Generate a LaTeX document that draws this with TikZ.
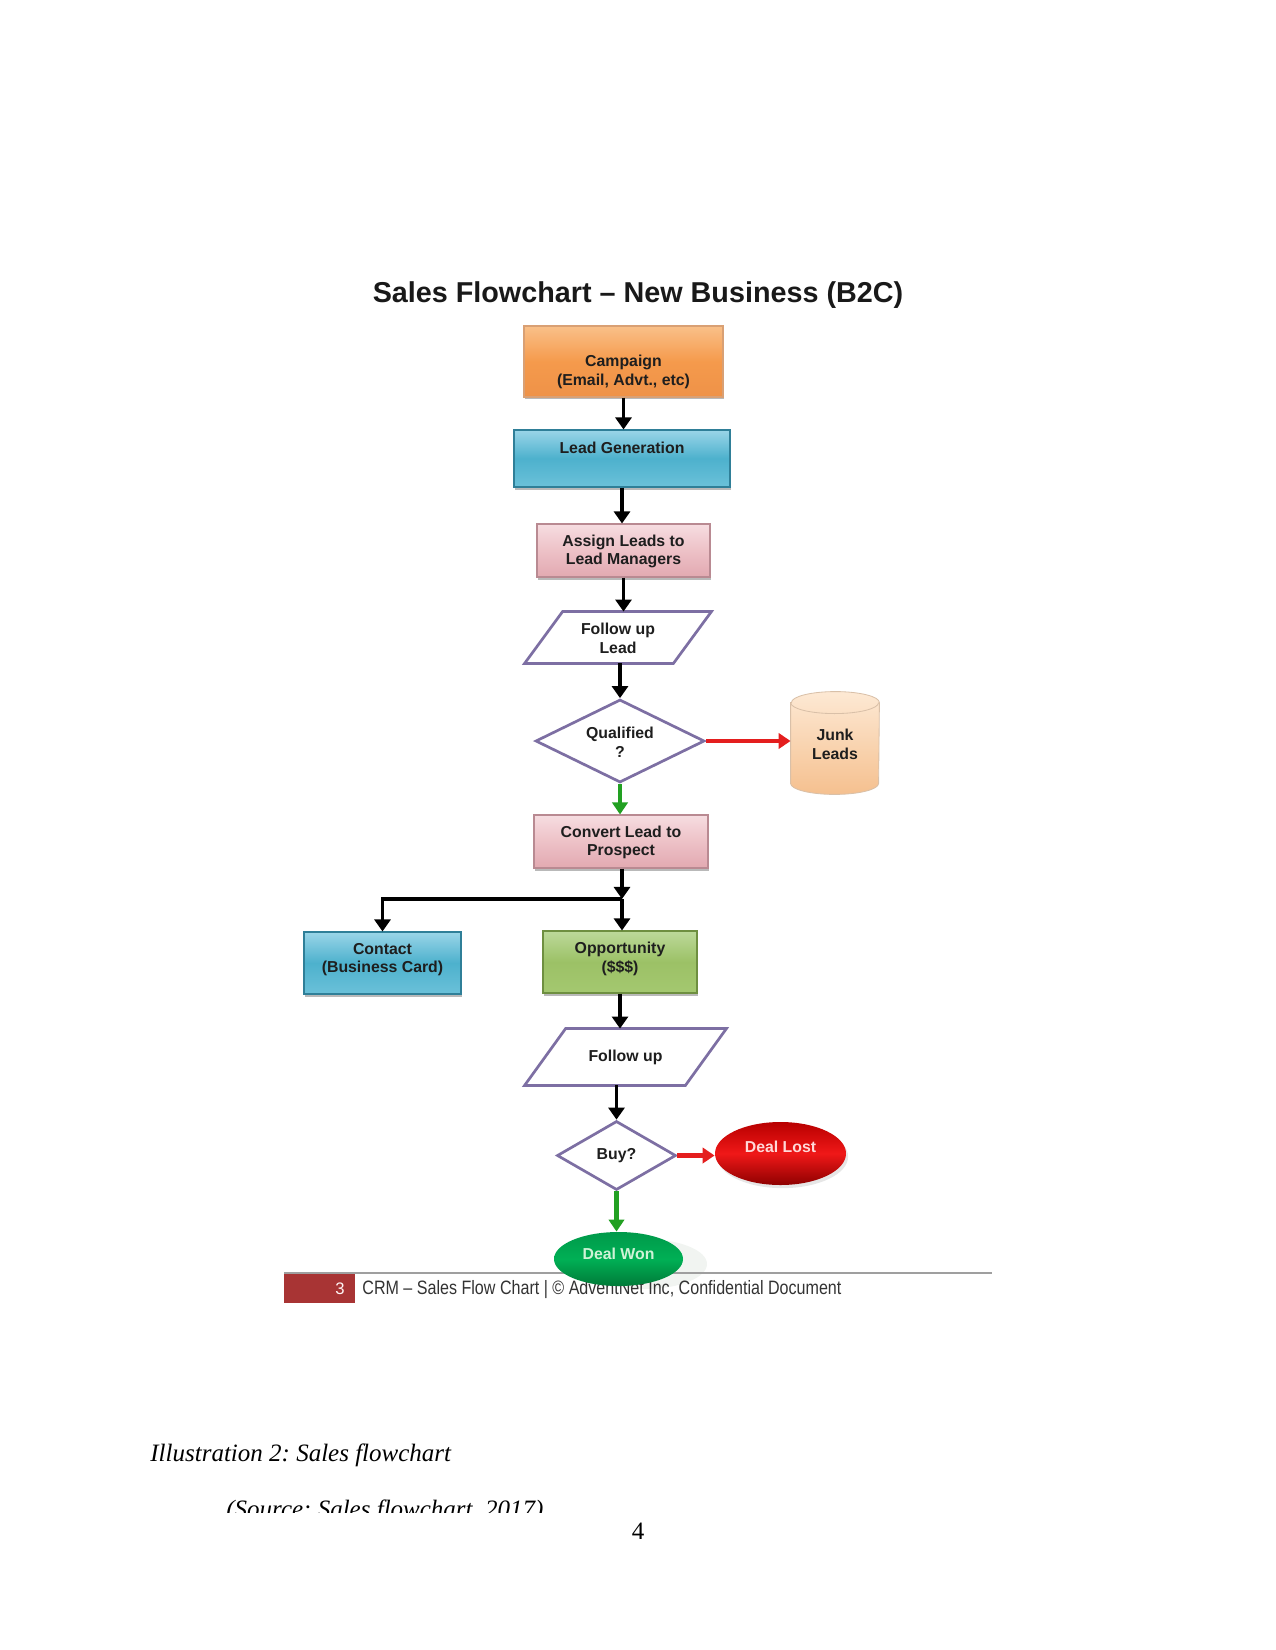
\documentclass[tikz,border=0pt]{standalone}
\usepackage{fontspec}
\setmainfont{Liberation Serif}
\newfontfamily\arialf{Liberation Sans}
\usetikzlibrary{shapes.geometric,arrows.meta,shadows,calc,backgrounds}
\definecolor{campT}{HTML}{F9C089}
\definecolor{campM}{HTML}{F59A4C}
\definecolor{campB}{HTML}{EE9248}
\definecolor{campD}{HTML}{C87838}
\definecolor{blueT}{HTML}{9AD5E8}
\definecolor{blueM}{HTML}{4DB1CD}
\definecolor{blueB}{HTML}{6BC1D9}
\definecolor{blueD}{HTML}{2F7F98}
\definecolor{pinkT}{HTML}{F6DDE1}
\definecolor{pinkM}{HTML}{EDC1C7}
\definecolor{pinkB}{HTML}{E2A9B1}
\definecolor{pinkD}{HTML}{B98A92}
\definecolor{grnT}{HTML}{BCD99A}
\definecolor{grnM}{HTML}{9CC166}
\definecolor{grnB}{HTML}{A4C870}
\definecolor{grnD}{HTML}{6E8F40}
\definecolor{purp}{HTML}{7D6FA3}
\definecolor{arrRed}{HTML}{E41E1E}
\definecolor{arrGrn}{HTML}{22A022}
\definecolor{lostT}{HTML}{B80000}
\definecolor{lostM}{HTML}{F01818}
\definecolor{lostB}{HTML}{8E0000}
\definecolor{lostTxt}{HTML}{FFD8D8}
\definecolor{wonT}{HTML}{00994A}
\definecolor{wonM}{HTML}{00B055}
\definecolor{wonB}{HTML}{007A38}
\definecolor{wonTxt}{HTML}{CFF3D6}
\definecolor{junkT}{HTML}{FDE9D4}
\definecolor{junkB}{HTML}{F5C08F}
\definecolor{junkD}{HTML}{D9C0A8}
\definecolor{footRed}{HTML}{A83434}
\definecolor{txt}{HTML}{1E1E1E}
\newcommand{\mvtext}[2]{\raisebox{#1}[\height][\depth]{\begin{tabular}{@{}c@{}}#2\end{tabular}}}
\begin{document}
\begin{tikzpicture}[x=0.48pt,y=-0.48pt,
  every node/.style={font=\arialf\bfseries\fontsize{7.6}{9}\selectfont, text=txt},
  box/.style={rectangle, inner sep=0pt, line width=0.5pt,
    drop shadow={shadow xshift=0.4pt, shadow yshift=-1.2pt, opacity=0.55}},
  orangebox/.style={box, draw=campD!70, top color=campT, bottom color=campB, middle color=campM},
  bluebox/.style={box, draw=blueD, top color=blueT, bottom color=blueB, middle color=blueM},
  pinkbox/.style={box, draw=pinkD, top color=pinkT, bottom color=pinkB, middle color=pinkM},
  greenbox/.style={box, draw=grnD, top color=grnT, bottom color=grnB, middle color=grnM},
  para/.style={draw=purp, line width=1.3pt, fill=white, line join=miter},
  decision/.style={diamond, aspect=2, draw=purp, line width=1.3pt, fill=white, inner sep=0pt},
  arr/.style={draw=black, line width=1.9pt, -{Triangle[width=7.7pt,length=5.8pt]}},
  redarr/.style={draw=arrRed, line width=2pt, -{Triangle[width=7.4pt,length=5.8pt]}},
  grnarr/.style={draw=arrGrn, line width=2pt, -{Triangle[width=7.4pt,length=5.8pt]}}]
\useasboundingbox (0,0) rectangle (1275,1650);

\node (title) at (638,295) [font=\arialf\bfseries\fontsize{13.8}{16}\selectfont, text=black!90] {Sales Flowchart – New Business (B2C)};

\node (camp) at (623.5,361.5) [orangebox, minimum width=199*0.48pt, minimum height=71*0.48pt] {\mvtext{-5.3pt}{Campaign\\(Email, Advt., etc)}};
\node (lead) at (622,458.5) [bluebox, minimum width=216*0.48pt, minimum height=57*0.48pt] {\mvtext{4.2pt}{Lead Generation}};
\node (assign) at (623.5,550.5) [pinkbox, minimum width=173*0.48pt, minimum height=53*0.48pt] {\mvtext{-0.6pt}{Assign Leads to\\Lead Managers}};
\node (fu1) at (618,637.5) [minimum width=186*0.48pt, minimum height=51*0.48pt, inner sep=0pt] {\mvtext{-1.2pt}{Follow up\\Lead}};
\node (qual) at (620,741) [decision, minimum width=169*0.48pt, minimum height=83*0.48pt] {\mvtext{-1.5pt}{Qualified\\?}};
\node (junk) at (835,743) [minimum width=88*0.48pt, minimum height=102*0.48pt, inner sep=0pt] {\mvtext{-1.6pt}{Junk\\Leads}};
\node (conv) at (621,841.5) [pinkbox, minimum width=174*0.48pt, minimum height=53*0.48pt] {\mvtext{-0.6pt}{Convert Lead to\\Prospect}};
\coordinate (junc) at (622,899);
\node (contact) at (382.5,963) [bluebox, minimum width=157*0.48pt, minimum height=62*0.48pt] {\mvtext{1.6pt}{Contact\\(Business Card)}};
\node (opp) at (620,962) [greenbox, minimum width=154*0.48pt, minimum height=62*0.48pt] {\mvtext{1.4pt}{Opportunity\\(\$\$\$)}};
\node (fu2) at (625.5,1057) [minimum width=201*0.48pt, minimum height=56*0.48pt, inner sep=0pt] {Follow up};
\node (buy) at (616.5,1155.5) [decision, minimum width=119*0.48pt, minimum height=69*0.48pt] {Buy?};
\node (lost) at (780.5,1153.5) [ellipse, inner sep=0pt, minimum width=131*0.48pt, minimum height=63*0.48pt,
  top color=lostT, bottom color=lostB, middle color=lostM, text=lostTxt,
  drop shadow={shadow xshift=1pt, shadow yshift=-1.5pt, opacity=0.2}] {\mvtext{2.2pt}{Deal Lost}};

% footer (under the Deal Won ellipse)
\draw[gray!75, line width=0.7pt] (284,1273) -- (992,1273);
\node (pgbox) at (319.5,1288.5) [rectangle, fill=footRed, minimum width=71*0.48pt, minimum height=29*0.48pt,
  inner xsep=5pt, inner ysep=0pt, text width=24.08pt, align=right,
  font=\arialf\fontsize{8}{9}\selectfont, text=white!85!pink] {3};
\node (foot) at (362,1290) [anchor=west, inner sep=0pt, font=\arialf\fontsize{9.3}{10}\selectfont, text=black!80]
  {\scalebox{0.83}[1]{CRM – Sales Flow Chart | © AdventNet Inc, Confidential Document}};

\node (won) at (618.5,1259) [ellipse, inner sep=0pt, minimum width=129*0.48pt, minimum height=54*0.48pt,
  top color=wonT, bottom color=wonB, middle color=wonM, text=wonTxt] {\mvtext{1.5pt}{Deal Won}};

\begin{pgfonlayer}{background}
  \draw[para] (fu1.south west) -- ($(fu1.north west)+(38,0)$) -- (fu1.north east) -- ($(fu1.south east)+(-38,0)$) -- cycle;
  \draw[para] (fu2.south west) -- ($(fu2.north west)+(41,0)$) -- (fu2.north east) -- ($(fu2.south east)+(-41,0)$) -- cycle;
  \path[top color=junkT, bottom color=junkB, draw=junkD, line width=0.4pt]
    ($(junk.north west)+(0,11)$) -- ($(junk.south west)+(0,-11)$)
    arc[start angle=180, end angle=360, x radius=21.12pt, y radius=5.28pt]
    -- ($(junk.north east)+(0,11)$)
    arc[start angle=0, end angle=180, x radius=21.12pt, y radius=5.28pt] -- cycle;
  \draw[junkD, line width=0.4pt] ($(junk.north west)+(0,11)$)
    arc[start angle=180, end angle=360, x radius=21.12pt, y radius=5.28pt];
  \fill[green!15!gray!22, opacity=0.45] ($(won.center)+(26,5)$) ellipse [x radius=30pt, y radius=12pt];
\end{pgfonlayer}

\draw[arr] (camp.south) -- (camp.south |- lead.north);
\draw[arr] (lead.south) -- (lead.south |- assign.north);
\draw[arr] (assign.south) -- (assign.south |- fu1.north);
\draw[arr] (qual.north |- fu1.south) -- (qual.north);
\draw[redarr] (qual.east) -- (qual.east -| junk.west);
\draw[grnarr] (qual.south) -- (qual.south |- conv.north);
\draw[arr] (junc |- conv.south) -- (junc);
\draw[arr] (junc) -- (junc |- opp.north);
\draw[arr, line join=miter] (junc) -| (contact.north);
\draw[arr] (opp.south) -- (opp.south |- fu2.north);
\draw[arr] (buy.north |- fu2.south) -- (buy.north);
\draw[redarr] (buy.east) -- (buy.east -| lost.west);
\draw[grnarr] (buy.south) -- (buy.south |- won.north);

\node (cap) at (150,1461) [anchor=base west, inner sep=0pt, font=\rmfamily\itshape\fontsize{12}{14}\selectfont\frenchspacing, text=black] {Illustration 2: Sales flowchart};
\begin{scope}
  \clip (0,1488) rectangle (1275,1512);
  \node (src) at (226,1517) [anchor=base west, inner sep=0pt, font=\rmfamily\itshape\fontsize{12}{14}\selectfont\frenchspacing, text=black] {(Source: Sales flowchart, 2017)};
\end{scope}
\node (pnum) at (638,1539) [anchor=base, inner sep=0pt, font=\rmfamily\fontsize{12}{14}\selectfont, text=black] {4};
\end{tikzpicture}
\end{document}
